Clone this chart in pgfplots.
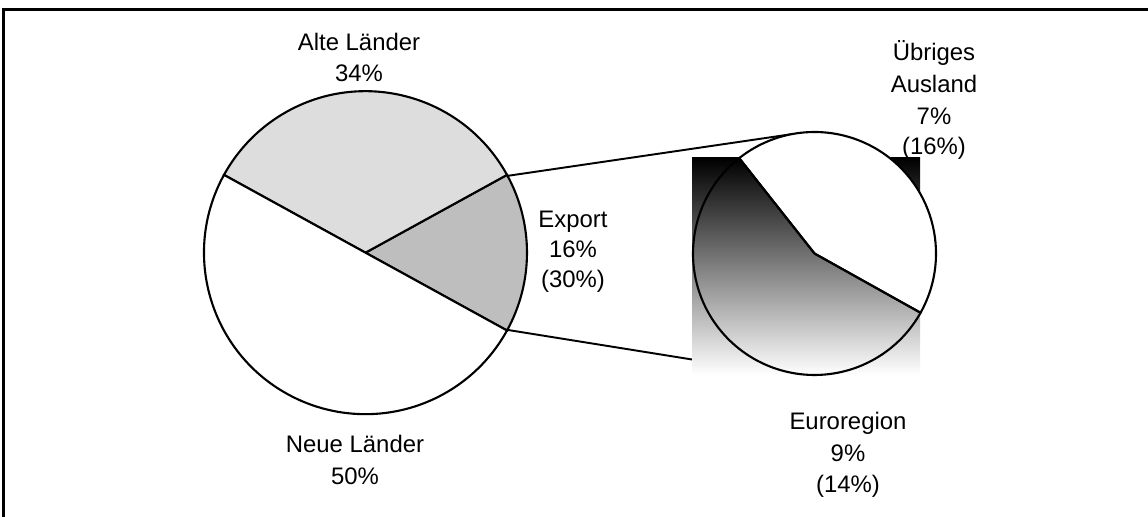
\documentclass[border=0pt]{standalone}
\usepackage{pgfplots}
\pgfplotsset{compat=1.18}
\usepackage{fontspec}
\setmainfont{Liberation Sans}
\definecolor{alteg}{HTML}{DDDDDD}
\definecolor{expg}{HTML}{BEBEBE}
% slice: cx, cy (axis units), radius, start angle, percent, path options
\newcommand\slice[6]{%
  \pgfmathsetmacro\sa{#4}%
  \pgfmathsetmacro\se{#4+3.6*#5}%
  \edef\tmp{\noexpand\path[#6] (axis cs:#1,#2) -- ++(\sa:#3) arc[start angle=\sa,end angle=\se,radius=#3] -- cycle;}%
  \tmp}
\newcommand\lbl[3]{\node[anchor=base,inner sep=0pt,font=\fontsize{6.8pt}{8.8pt}\selectfont] at (axis cs:#1,#2) {#3};}
\begin{document}
\begin{tikzpicture}
\useasboundingbox (0,0) rectangle (11.48cm,5.17cm);
\begin{axis}[width=11.48cm,height=5.17cm,scale only axis,
  xmin=0,xmax=1148,ymin=0,ymax=517,hide axis,clip=false]
% frame
\draw[line width=0.3mm] (axis cs:4,0) -- (axis cs:4,507.5) -- (axis cs:1148,507.5);
% connectors
\draw[line width=0.55pt] (axis cs:506.7,341) -- (axis cs:793,383);
\draw[line width=0.55pt] (axis cs:508,187) -- (axis cs:692,157.5);
% main pie: Export 16, Alte Laender 34, Neue Laender 50
\slice{365.5}{264.3}{1.615cm}{-28.8}{16}{fill=expg,draw=black,line width=0.6pt}
\slice{365.5}{264.3}{1.615cm}{28.8}{34}{fill=alteg,draw=black,line width=0.6pt}
\slice{365.5}{264.3}{1.615cm}{151.2}{50}{fill=white,draw=black,line width=0.6pt}
% secondary pie: Uebriges Ausland 7/16, Euroregion 9/16
\shade[top color=black,bottom color=white] (axis cs:692,142) rectangle (axis cs:920,359);
\slice{814.5}{263.5}{1.215cm}{-29.2}{43.75}{fill=white,draw=black,line width=0.6pt}
\slice{814.5}{263.5}{1.215cm}{128.3}{56.25}{draw=black,line width=0.6pt}
% labels
\lbl{359}{466}{Alte Länder}
\lbl{359}{435}{34\%}
\lbl{573}{289}{Export}
\lbl{573}{259}{16\%}
\lbl{573}{229}{(30\%)}
\lbl{934}{456}{Übriges}
\lbl{934}{424}{Ausland}
\lbl{934}{392}{7\%}
\lbl{934}{362}{(16\%)}
\lbl{848}{87}{Euroregion}
\lbl{848}{55.5}{9\%}
\lbl{848}{24}{(14\%)}
\lbl{355}{64}{Neue Länder}
\lbl{355}{32}{50\%}
\end{axis}
\end{tikzpicture}
\end{document}
